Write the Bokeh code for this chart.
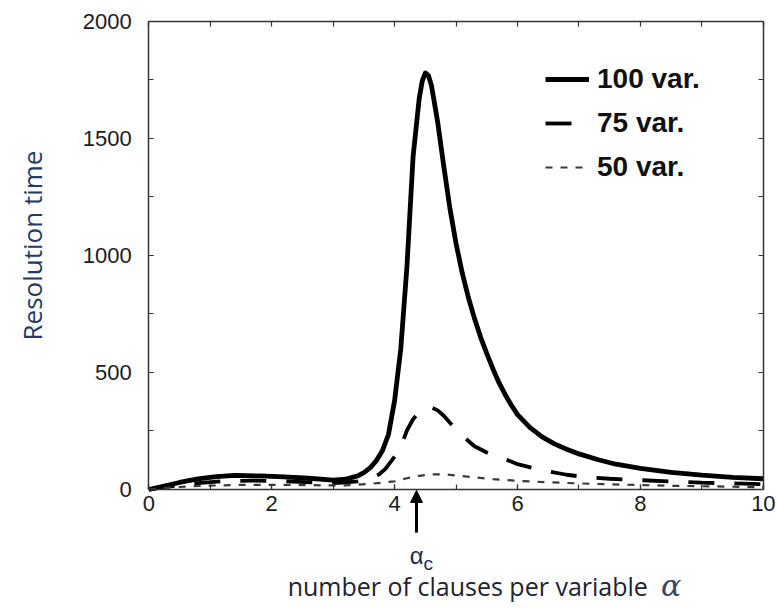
import math
from bokeh.plotting import figure
from bokeh.models import (Range1d, SingleIntervalTicker, FixedTicker, LinearAxis, Label, Arrow,
                          NormalHead, Legend, LegendItem)
from bokeh.embed import file_html
from bokeh.resources import INLINE

# ---- data ----
x100 = [0, 0.25, 0.5, 0.8, 1.1, 1.4, 1.8, 2.2, 2.6, 3.0, 3.2, 3.4, 3.5, 3.6, 3.7, 3.8, 3.9,
        4.0, 4.1, 4.2, 4.3, 4.4, 4.45, 4.5, 4.55, 4.6, 4.7, 4.8, 4.9, 5.0, 5.1, 5.2, 5.3,
        5.4, 5.5, 5.6, 5.7, 5.8, 5.9, 6.0, 6.2, 6.4, 6.6, 6.8, 7.0, 7.3, 7.6, 8.0, 8.5,
        9.0, 9.5, 10.0]
y100 = [0, 15, 30, 45, 55, 60, 58, 54, 48, 40, 44, 58, 72, 92, 122, 165, 235,
        380, 600, 950, 1420, 1670, 1745, 1779, 1768, 1725, 1570, 1380, 1200, 1050, 925, 820, 730,
        650, 580, 515, 455, 405, 360, 320, 265, 225, 195, 172, 152, 128, 108, 90, 73,
        61, 52, 46]

x75 = [0, 0.3, 0.7, 1.2, 1.7, 2.2, 2.7, 3.1, 3.4, 3.6, 3.75, 3.85, 4.0, 4.1, 4.2, 4.3, 4.4,
       4.5, 4.6, 4.7, 4.8, 4.9, 5.0, 5.13, 5.3, 5.5, 5.72, 6.0, 6.43, 6.8, 7.13, 7.5, 8.0,
       8.5, 9.0, 9.5, 10.0]
y75 = [0, 12, 25, 35, 38, 35, 30, 28, 35, 45, 65, 88, 140, 180, 252, 300, 330,
       348, 350, 338, 315, 285, 255, 223, 185, 158, 138, 108, 81, 63, 52, 46, 40,
       34, 29, 26, 23]

x50 = [0, 0.3, 0.8, 1.5, 2.2, 2.8, 3.2, 3.6, 4.0, 4.2, 4.4, 4.6, 4.8, 5.0, 5.3, 5.6, 6.0,
       6.5, 7.0, 7.5, 8.0, 8.5, 9.0, 9.5, 10.0]
y50 = [0, 8, 15, 20, 20, 18, 18, 24, 35, 48, 58, 65, 65, 60, 52, 44, 37,
       31, 26, 22, 19, 16, 14, 12, 10]

series_labels = ["100 var.", "75 var.", "50 var."]
x_label = "number of clauses per variable"
y_label = "Resolution time"
alpha_c = 4.356
x_minor = list(range(0, 11))
y_minor = list(range(0, 2001, 250))

TICK_FONT = "Liberation Sans"
AX = "#333333"

# whole canvas is the frame; axes are pinned at data locations
W, H = 777, 608
p = figure(width=W, height=H, output_backend="svg", toolbar_location=None,
           x_range=Range1d(-2.413, 10.23), y_range=Range1d(-508.2, 2088.4),
           x_axis_location=None, y_axis_location=None,
           min_border_left=0, min_border_right=0, min_border_top=0, min_border_bottom=0)
p.grid.visible = False
p.outline_line_color = None
p.background_fill_color = "white"
p.border_fill_color = "white"


def base_axis(ax, loc, bounds):
    ax.fixed_location = loc
    ax.bounds = bounds
    ax.axis_line_color = AX
    ax.axis_line_width = 1.5
    ax.major_tick_in = 5
    ax.major_tick_out = 0
    ax.minor_tick_in = 5
    ax.minor_tick_out = 0
    ax.major_tick_line_color = AX
    ax.minor_tick_line_color = AX
    ax.major_tick_line_width = 1.2
    ax.minor_tick_line_width = 1.2
    ax.major_label_text_font = TICK_FONT
    ax.major_label_text_font_size = "22px"
    ax.major_label_text_color = "#1a1a22"


xa = LinearAxis(ticker=SingleIntervalTicker(interval=2, num_minor_ticks=2))
base_axis(xa, 0, (0, 10))
xa.major_label_standoff = 6
ya = LinearAxis(ticker=SingleIntervalTicker(interval=500, num_minor_ticks=2))
base_axis(ya, 0, (0, 2000))
ya.major_label_standoff = 17
ta = LinearAxis(ticker=FixedTicker(ticks=[], minor_ticks=x_minor))
base_axis(ta, 2000, (0, 10))
ra = LinearAxis(ticker=FixedTicker(ticks=[], minor_ticks=y_minor))
base_axis(ra, 10, (0, 2000))
p.add_layout(xa, "below")
p.add_layout(ya, "left")
p.add_layout(ta, "above")
p.add_layout(ra, "right")

r100 = p.line(x100, y100, line_color="black", line_width=4.8, line_join="round")
r75 = p.line(x75, y75, line_color="black", line_width=3.8, line_dash="26 20")
r50 = p.line(x50, y50, line_color="#3a3a3a", line_width=2.2, line_dash="7 8")

legend = Legend(items=[LegendItem(label=series_labels[0], renderers=[r100]),
                       LegendItem(label=series_labels[1], renderers=[r75]),
                       LegendItem(label=series_labels[2], renderers=[r50])],
                location=(545, 425), glyph_width=44, glyph_height=22, label_height=22,
                spacing=12, label_standoff=8, padding=0, margin=0,
                border_line_alpha=0, background_fill_alpha=0,
                label_text_font=TICK_FONT, label_text_font_style="bold",
                label_text_font_size="28px", label_text_color="#111111")
p.add_layout(legend, "center")

# y axis label
p.add_layout(Label(x=-1.893, y=1042, text=y_label, angle=math.pi / 2,
                   text_align="center", text_baseline="middle",
                   text_font="Open Sans", text_font_size="26px", text_color="#243a60"))
# x axis label
p.add_layout(Label(x=5.19, y=-410, text=x_label, text_align="center",
                   text_baseline="alphabetic", text_font="Open Sans", text_font_size="25px",
                   text_color="#222230"))
p.add_layout(Label(x=8.5, y=-410, text="α", text_align="center",
                   text_baseline="alphabetic", text_font="DejaVu Serif",
                   text_font_style="italic", text_font_size="30px",
                   text_color="#3a4560"))
# alpha_c marker
p.add_layout(Arrow(end=NormalHead(size=12, fill_color="black", line_color="black"),
                   x_start=alpha_c, y_start=-184, x_end=alpha_c, y_end=-4,
                   line_color="black", line_width=3))
p.add_layout(Label(x=4.47, y=-282, text="α", text_align="right",
                   text_baseline="alphabetic", text_font=TICK_FONT,
                   text_font_size="24px", text_color="#1e2a50"))
p.add_layout(Label(x=4.47, y=-316, text="c", text_align="left",
                   text_baseline="alphabetic", text_font=TICK_FONT,
                   text_font_size="19px", text_color="#1e2a50"))

open("out.html", "w").write(file_html(p, INLINE))
